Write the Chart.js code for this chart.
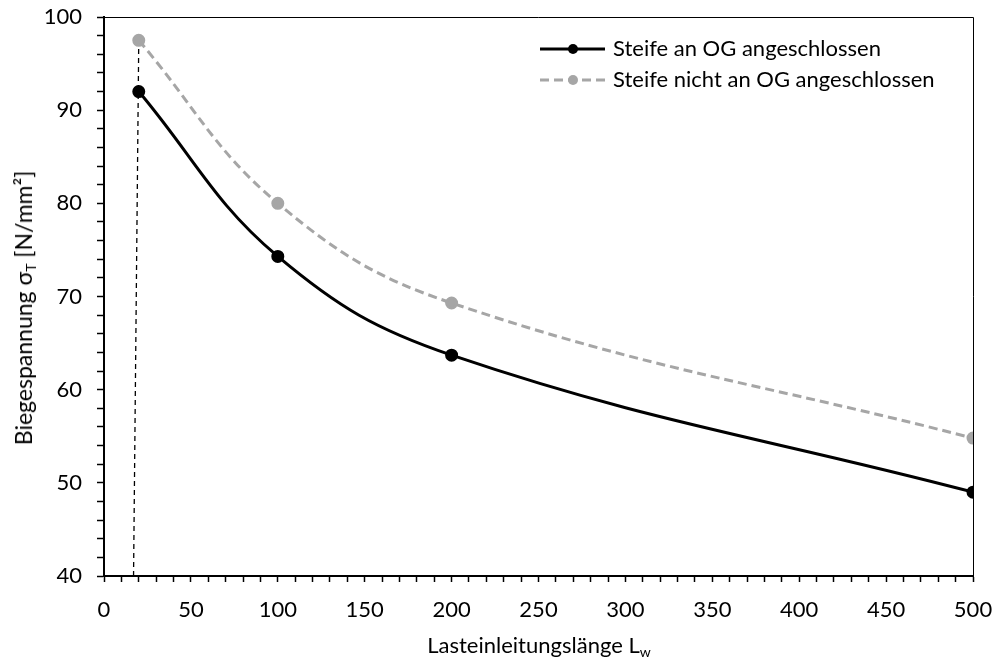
<!DOCTYPE html>
<html>
<head>
<meta charset="utf-8">
<script src="https://cdn.jsdelivr.net/npm/chart.js@4.4.1/dist/chart.umd.min.js"></script>
<style>
  html, body { margin: 0; padding: 0; background: #fff; }
  #wrap { position: relative; width: 1000px; height: 666px; font-family: Lato, 'Open Sans', sans-serif; color: #000; }
  #chart { position: absolute; left: 0; top: 0; }
  .axis-title { position: absolute; font-size: 22px; white-space: nowrap; line-height: 1; }
  .axis-title sub { font-size: 14px; vertical-align: -4px; }
  #y-title { left: 25px; top: 308px; font-size: 23px; transform: translate(-50%, -50%) rotate(-90deg); }
  #x-title { left: 539px; top: 646px; transform: translate(-50%, -50%); }
</style>
</head>
<body>
<div id="wrap">
  <canvas id="chart" width="1000" height="666"></canvas>
  <div class="axis-title" id="y-title">Biegespannung σ<sub>T</sub> [N/mm²]</div>
  <div class="axis-title" id="x-title">Lasteinleitungslänge L<sub>w</sub></div>
</div>
<script>
// load introduction length L_w
const lengths = [20, 100, 200, 500];
const stressConnected = [92, 74.3, 63.7, 49];       // Steife an OG angeschlossen
const stressNotConnected = [97.5, 80, 69.3, 54.8];  // Steife nicht an OG angeschlossen
// thin dashed reference line near L_w = 20
const refLineX = [17, 20];
const refLineY = [40, 97.5];

const seriesNames = ['Steife an OG angeschlossen', 'Steife nicht an OG angeschlossen'];
const GREY = '#A6A6A6';
const FONT = 'Lato, "Open Sans", sans-serif';

const toPoints = (xs, ys) => xs.map((x, i) => ({ x, y: ys[i] }));

// frame around plot area + legend drawn inside it
const framePlugin = {
  id: 'frame',
  afterDraw(chart) {
    const { ctx, chartArea: a } = chart;
    ctx.save();
    ctx.strokeStyle = '#000';
    ctx.lineWidth = 1;
    ctx.beginPath();
    ctx.moveTo(a.left, a.top + 0.5);
    ctx.lineTo(a.right + 0.5, a.top + 0.5);
    ctx.lineTo(a.right + 0.5, a.bottom);
    ctx.stroke();

    const items = [
      { y: 49, color: '#000', dash: [] },
      { y: 80, color: GREY, dash: [9, 5] },
    ];
    items.forEach((it, i) => {
      ctx.strokeStyle = it.color;
      ctx.fillStyle = it.color;
      ctx.lineWidth = 3;
      ctx.setLineDash(it.dash);
      ctx.beginPath();
      ctx.moveTo(540, it.y);
      ctx.lineTo(605, it.y);
      ctx.stroke();
      ctx.setLineDash([]);
      ctx.beginPath();
      ctx.arc(573, it.y, 5, 0, Math.PI * 2);
      ctx.fill();
      ctx.fillStyle = '#000';
      ctx.font = `22px ${FONT}`;
      ctx.textBaseline = 'middle';
      ctx.fillText(seriesNames[i], 613, it.y);
    });
    ctx.restore();
  },
};

new Chart(document.getElementById('chart'), {
  type: 'line',
  data: {
    datasets: [
      {
        label: seriesNames[0],
        data: toPoints(lengths, stressConnected),
        borderColor: '#000',
        backgroundColor: '#000',
        borderWidth: 3,
        pointRadius: 5,
        tension: 0.4,
      },
      {
        label: seriesNames[1],
        data: toPoints(lengths, stressNotConnected),
        borderColor: GREY,
        backgroundColor: GREY,
        borderWidth: 3,
        borderDash: [9, 5],
        pointRadius: 5,
        tension: 0.4,
      },
      {
        label: 'ref',
        data: toPoints(refLineX, refLineY),
        borderColor: '#000',
        borderWidth: 1.3,
        borderDash: [5, 4],
        pointRadius: 0,
        tension: 0,
      },
    ],
  },
  options: {
    responsive: false,
    animation: false,
    layout: { padding: { left: 0, top: 17, right: 27, bottom: 0 } },
    plugins: {
      legend: { display: false },
      tooltip: { enabled: false },
    },
    scales: {
      x: {
        type: 'linear',
        min: 0,
        max: 500,
        afterFit: (s) => { s.height = 90; s.paddingLeft = 0; s.paddingRight = 0; },
        ticks: {
          stepSize: 10,
          autoSkip: false,
          maxRotation: 0,
          padding: 15,
          color: '#000',
          font: { family: FONT, size: 22 },
          callback: (v) => (v % 50 === 0 ? v : ''),
        },
        grid: { drawOnChartArea: false, tickLength: 6, tickColor: '#000', tickWidth: 1.5 },
        border: { color: '#000', width: 2 },
      },
      y: {
        min: 40,
        max: 100,
        afterFit: (s) => { s.width = 104; s.paddingTop = 0; s.paddingBottom = 0; },
        ticks: {
          stepSize: 2,
          autoSkip: false,
          padding: 15,
          color: '#000',
          font: { family: FONT, size: 22 },
          callback: (v) => (v % 10 === 0 ? v : ''),
        },
        grid: { drawOnChartArea: false, tickLength: 7, tickColor: '#000', tickWidth: 1.5 },
        border: { color: '#000', width: 2 },
      },
    },
  },
  plugins: [framePlugin],
});
</script>
</body>
</html>
